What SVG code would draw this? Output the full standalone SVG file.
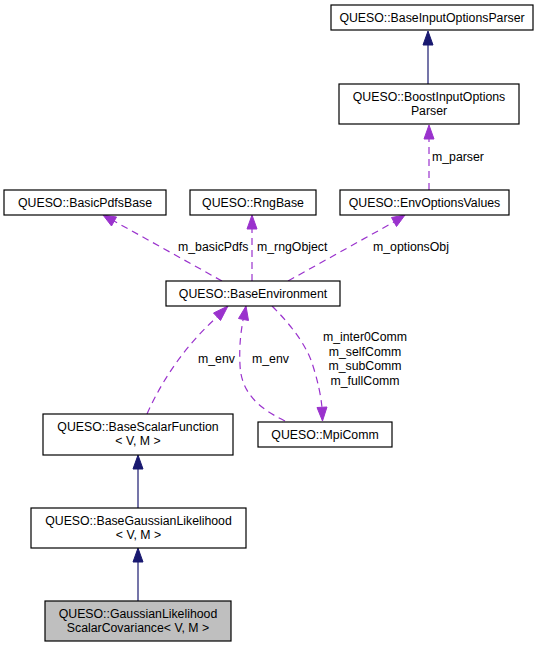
<svg xmlns="http://www.w3.org/2000/svg" width="541" height="648" viewBox="0 0 541 648">
<style>
  .box { fill: #ffffff; stroke: #000000; stroke-width: 1.2; }
  .cur { fill: #bfbfbf; stroke: #000000; stroke-width: 1.2; }
  text { font-family: "Liberation Sans", Arial, sans-serif; font-size: 12.3px; fill: #000000; }
  .c { text-anchor: middle; }
  .inh { stroke: #191970; stroke-width: 1.2; fill: none; }
  .inhh { fill: #191970; stroke: #191970; }
  .use { stroke: #9a32cd; stroke-width: 1.2; fill: none; stroke-dasharray: 7,5; }
  .useh { fill: #9a32cd; stroke: #9a32cd; }
</style>
<rect width="541" height="648" fill="#ffffff"/>

<g id="connectors">
  <!-- inheritance -->
  <line class="inh" x1="428" y1="84" x2="428" y2="44"/>
  <polygon class="inhh" points="428,31 423,45 433,45"/>
  <line class="inh" x1="138" y1="508" x2="138" y2="468"/>
  <polygon class="inhh" points="138,455 133,469 143,469"/>
  <line class="inh" x1="138" y1="601" x2="138" y2="561"/>
  <polygon class="inhh" points="138,548 133,562 143,562"/>

  <!-- m_parser -->
  <line class="use" x1="429" y1="190" x2="429" y2="138"/>
  <polygon class="useh" points="429,125 424,139 434,139"/>

  <!-- m_basicPdfs -->
  <line class="use" x1="222" y1="281" x2="114" y2="221"/>
  <polygon class="useh" points="103,215 111.5,226 116.5,217"/>

  <!-- m_rngObject -->
  <line class="use" x1="252" y1="281" x2="252" y2="228"/>
  <polygon class="useh" points="252,215 247,229 257,229"/>

  <!-- m_optionsObj -->
  <line class="use" x1="288" y1="281" x2="394" y2="222"/>
  <polygon class="useh" points="405,215 391.5,217.5 396.5,226.5"/>

  <!-- m_env from BaseScalarFunction -->
  <path class="use" d="M147,414 Q172,358 217,317"/>
  <polygon class="useh" points="228,306 213.5,313 220.5,320.5"/>

  <!-- m_env from MpiComm -->
  <path class="use" d="M285,421 C258,408 241,392 240,365 C239,345 241,332 243,320"/>
  <polygon class="useh" points="246,306 238.5,318.5 248.5,320.5"/>

  <!-- m_inter0Comm etc. to MpiComm -->
  <path class="use" d="M272,306 C292,326 307,346 313,366 C318,382 321,396 322,408"/>
  <polygon class="useh" points="322.5,421 317,407.5 327,407"/>
</g>

<g id="n-baseinputoptionsparser">
  <rect class="box" x="331" y="5" width="202" height="25"/>
  <text class="c" x="432" y="22">QUESO::BaseInputOptionsParser</text>
</g>

<g id="n-boostinputoptionsparser">
  <rect class="box" x="339" y="84" width="180" height="40"/>
  <text class="c" x="429" y="101">QUESO::BoostInputOptions</text>
  <text class="c" x="429" y="115">Parser</text>
</g>

<g id="n-basicpdfsbase">
  <rect class="box" x="4" y="190" width="162" height="25"/>
  <text class="c" x="85" y="207">QUESO::BasicPdfsBase</text>
</g>

<g id="n-rngbase">
  <rect class="box" x="190" y="190" width="126" height="25"/>
  <text class="c" x="253" y="207">QUESO::RngBase</text>
</g>

<g id="n-envoptionsvalues">
  <rect class="box" x="340" y="190" width="169" height="25"/>
  <text class="c" x="424.5" y="207">QUESO::EnvOptionsValues</text>
</g>

<g id="n-baseenvironment">
  <rect class="box" x="166" y="281" width="174" height="25"/>
  <text class="c" x="253" y="298">QUESO::BaseEnvironment</text>
</g>

<g id="n-basescalarfunction">
  <rect class="box" x="43" y="414" width="190" height="41"/>
  <text class="c" x="138" y="431">QUESO::BaseScalarFunction</text>
  <text class="c" x="138" y="445">&lt; V, M &gt;</text>
</g>

<g id="n-mpicomm">
  <rect class="box" x="258" y="422" width="134" height="25"/>
  <text class="c" x="325" y="439">QUESO::MpiComm</text>
</g>

<g id="n-basegaussianlikelihood">
  <rect class="box" x="31" y="508" width="215" height="40"/>
  <text class="c" x="138.5" y="524.5">QUESO::BaseGaussianLikelihood</text>
  <text class="c" x="138.5" y="539">&lt; V, M &gt;</text>
</g>

<g id="n-gaussianlikelihoodscalarcovariance">
  <rect class="cur" x="45" y="601" width="186" height="40"/>
  <text class="c" x="138" y="617.5">QUESO::GaussianLikelihood</text>
  <text class="c" x="138" y="632">ScalarCovariance&lt; V, M &gt;</text>
</g>

<g id="labels">
  <text x="432" y="161">m_parser</text>
  <text x="178" y="251">m_basicPdfs</text>
  <text x="257" y="251">m_rngObject</text>
  <text x="373" y="251">m_optionsObj</text>
  <text x="198" y="363">m_env</text>
  <text x="252" y="363">m_env</text>
  <text class="c" x="365" y="341">m_inter0Comm</text>
  <text class="c" x="365" y="356">m_selfComm</text>
  <text class="c" x="365" y="370">m_subComm</text>
  <text class="c" x="365" y="385">m_fullComm</text>
</g>
</svg>
